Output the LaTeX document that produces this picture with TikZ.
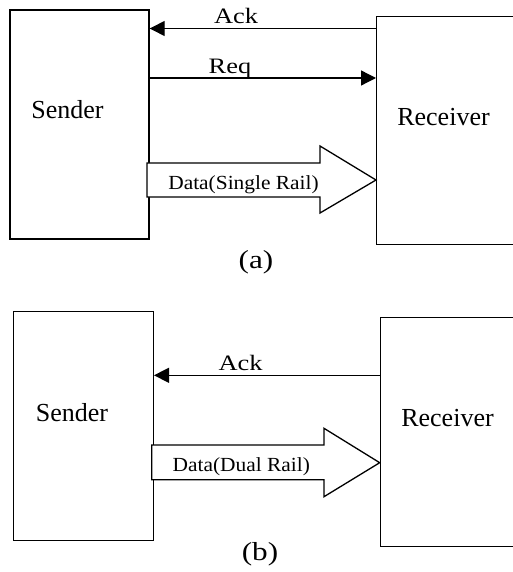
\documentclass[tikz,border=0pt]{standalone}
\usepackage{fontspec}
\setmainfont{Liberation Serif}
\usetikzlibrary{arrows.meta}
\tikzset{
  sig/.style={line width=1.3pt, -{Triangle[length=15pt,width=15pt]}},
  fat/.style={draw, line width=1.3pt, fill=white, line join=miter},
  lbl/.style={inner sep=0pt, anchor=base, font=\fontsize{22}{24}\selectfont},
  big/.style={inner sep=0pt, anchor=base, font=\fontsize{26}{28}\selectfont},
  dlbl/.style={inner sep=0pt, anchor=base, font=\fontsize{20}{22}\selectfont},
}
\begin{document}
\begin{tikzpicture}[x=1pt, y=-1pt]
\useasboundingbox (0,0) rectangle (513,572);
\clip (0,0) rectangle (513,572);

% ---------- (a) single rail ----------
\node[draw, line width=1.4pt, inner sep=0pt, minimum width=139pt, minimum height=229pt] (sa) at (79.5,124.5) {};
\node[draw, line width=1.4pt, inner sep=0pt, minimum width=160pt, minimum height=228pt, anchor=north west] (ra) at (376,16) {};
\node[big] (sat) at (67.5,119) {Sender};
\node[big] (rat) at (443.5,125.5) {Receiver};

\coordinate (ackA) at (ra.north west |- 0,28.5);
\coordinate (ackAe) at (sa.north east |- 0,28.5);
\draw[sig] (ackA) -- (ackAe);
\node[lbl] (ackAt) at (236,24) {\scalebox{1.2}[1]{Ack}};

\coordinate (reqAs) at (sa.north east |- 0,78);
\coordinate (reqAe) at (ra.north west |- 0,78);
\draw[sig] (reqAs) -- (reqAe);
\node[lbl] (reqAt) at (230,74) {\scalebox{1.2}[1]{Req}};

\coordinate (datAtip) at (ra.west |- 0,180);
\draw[fat] (147,163) -- (320,163) -- (320,146) -- (datAtip) -- (320,213) -- (320,197) -- (147,197) -- cycle;
\node[dlbl] (datAt) at (243.5,189) {\scalebox{1.07}[1]{Data(Single Rail)}};

\node[big] (capa) at (256,268) {\scalebox{1.2}[1]{(a)}};

% ---------- (b) dual rail ----------
\node[draw, line width=1.4pt, inner sep=0pt, minimum width=139.6pt, minimum height=229.4pt] (sb) at (83.5,426) {};
\node[draw, line width=1.4pt, inner sep=0pt, minimum width=160pt, minimum height=229.3pt, anchor=north west] (rb) at (379.7,316.7) {};
\node[big] (sbt) at (72,421) {Sender};
\node[big] (rbt) at (447.5,426) {Receiver};

\coordinate (ackB) at (rb.north west |- 0,375.3);
\coordinate (ackBe) at (sb.north east |- 0,375.3);
\draw[sig] (ackB) -- (ackBe);
\node[lbl] (ackBt) at (240.5,370.7) {\scalebox{1.2}[1]{Ack}};

\coordinate (datBtip) at (rb.west |- 0,462.7);
\draw[fat] (151.7,445) -- (324,445) -- (324,428.3) -- (datBtip) -- (324,496.7) -- (324,479.7) -- (151.7,479.7) -- cycle;
\node[dlbl] (datBt) at (241.3,471) {\scalebox{1.07}[1]{Data(Dual Rail)}};

\node[big] (capb) at (260,560) {\scalebox{1.2}[1]{(b)}};
\end{tikzpicture}
\end{document}
